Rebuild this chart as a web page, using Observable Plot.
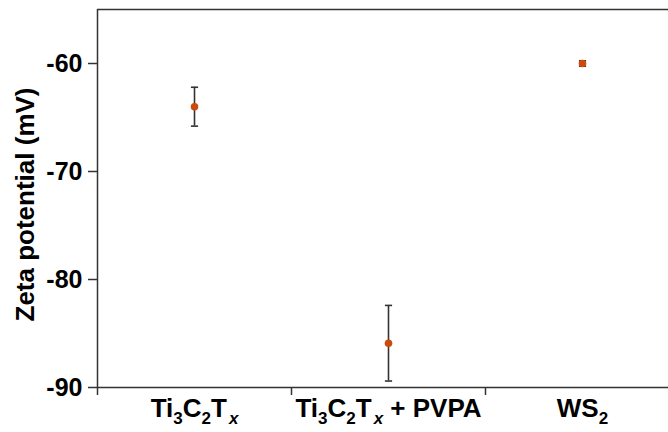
<!DOCTYPE html>
<html>
<head>
<meta charset="utf-8">
<script src="https://cdn.jsdelivr.net/npm/d3@7"></script>
<script src="https://cdn.jsdelivr.net/npm/@observablehq/plot@0.6"></script>
<style>
  body { margin: 0; background: #fff; }
  svg { font-family: "Liberation Sans", Arial, Helvetica, sans-serif; }
</style>
</head>
<body>
<div id="chart"></div>
<script>
// Zeta potential of the three dispersions (mean ± standard deviation, mV)
const categories = ["Ti3C2Tx", "Ti3C2Tx + PVPA", "WS2"];
// "_c" marks a subscripted character in the axis labels
const tickLabels = ["Ti_3C_2T_x", "Ti_3C_2T_x + PVPA", "WS_2"];
const zeta = [-64.0, -85.9, -60.0];
const zetaError = [1.8, 3.5, 0.25];
const yTicks = [-60, -70, -80, -90];
const yTitle = "Zeta potential (mV)";

const data = categories.map((name, i) => ({
  i, name, mean: zeta[i], low: zeta[i] - zetaError[i], high: zeta[i] + zetaError[i]
}));

// short horizontal stroke used as the error-bar cap
const capSymbol = {
  draw(context, size) {
    const w = Math.sqrt(size / Math.PI);
    context.moveTo(-w, 0);
    context.lineTo(w, 0);
  }
};

const ink = "#333";
const pointColor = "#cc4a0c";

const chart = Plot.plot({
  width: 668,
  height: 432,
  marginLeft: 97,
  marginRight: 0,
  marginTop: 9,
  marginBottom: 45,
  style: { background: "#fff", color: "#000" },
  x: { domain: [-0.5, categories.length - 0.5], range: [97, 679] },
  y: { domain: [-90, -55] },
  marks: [
    // frame lines
    Plot.ruleY([-55], { stroke: ink, strokeWidth: 1.5 }),
    Plot.ruleY([-90], { stroke: ink, strokeWidth: 1.5 }),
    Plot.ruleX([-0.5], { stroke: ink, strokeWidth: 1.5 }),
    Plot.axisY({
      ticks: yTicks, tickSize: 9, tickPadding: 6, label: null,
      tickFormat: d => String(d),
      fontSize: 25, fontWeight: "bold", stroke: ink, strokeWidth: 1.5, fill: "#000"
    }),
    // ticks between the groups
    Plot.axisX({
      ticks: d3.range(categories.length + 1).map(k => k - 0.5),
      tickSize: 8, tickFormat: () => "", label: null, stroke: ink, strokeWidth: 1.5
    }),
    // group names
    Plot.axisX({
      ticks: d3.range(categories.length), tickSize: 0, tickPadding: 11,
      tickFormat: k => categories[k], label: null,
      fontSize: 26, fontWeight: "bold", fill: "#000"
    }),
    Plot.text([yTitle], {
      frameAnchor: "left", textAnchor: "middle", lineAnchor: "middle",
      rotate: -90, dx: -72, dy: 6, fontSize: 26, fontWeight: "bold", fill: "#000"
    }),
    // error bars
    Plot.ruleX(data, { x: "i", y1: "low", y2: "high", stroke: ink, strokeWidth: 1.6 }),
    Plot.dot(data, { x: "i", y: "low", symbol: capSymbol, r: 3.6, stroke: ink, strokeWidth: 1.6, fill: "none" }),
    Plot.dot(data, { x: "i", y: "high", symbol: capSymbol, r: 3.6, stroke: ink, strokeWidth: 1.6, fill: "none" }),
    Plot.dot(data, { x: "i", y: "mean", r: 3.8, fill: pointColor, stroke: "none" })
  ]
});

// rewrite the group names with proper subscripts
const labelFor = new Map(categories.map((c, k) => [c, tickLabels[k]]));
d3.select(chart).selectAll("text").each(function () {
  const plain = this.textContent;
  if (!labelFor.has(plain)) return;
  const markup = labelFor.get(plain);
  const el = d3.select(this);
  el.text(null);
  let shift = 0;
  let run = "";
  const flush = () => {
    if (!run) return;
    const t = el.append("tspan").text(run);
    if (shift) { t.attr("dy", -shift); shift = 0; }
    run = "";
  };
  for (let p = 0; p < markup.length; p++) {
    const ch = markup[p];
    if (ch === "_" && p + 1 < markup.length) {
      flush();
      const s = markup[++p];
      const t = el.append("tspan").text(s).attr("font-size", 17).attr("dy", 7 - shift);
      if (/[a-z]/i.test(s)) t.attr("font-style", "italic").attr("dx", 2);
      shift = 7;
    } else {
      run += ch;
    }
  }
  flush();
});

document.getElementById("chart").appendChild(chart);
</script>
</body>
</html>
